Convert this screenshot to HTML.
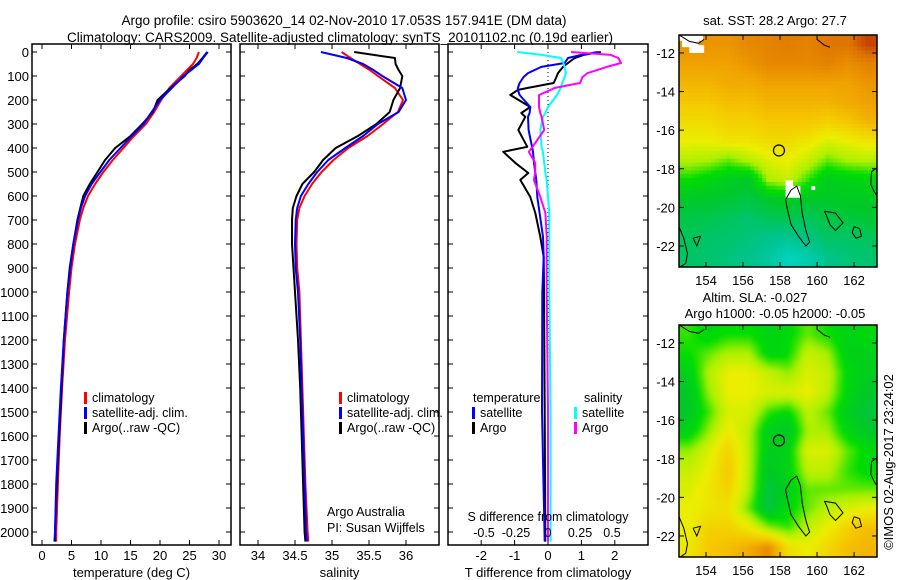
<!DOCTYPE html>
<html><head><meta charset="utf-8"><style>
html,body{margin:0;padding:0;background:#fff;}
svg{display:block;font-family:"Liberation Sans",sans-serif;}
text{fill:#000;}
</style></head><body>
<svg id="fig" width="900" height="580" viewBox="0 0 900 580" xmlns="http://www.w3.org/2000/svg">
<defs>
<clipPath id="c1"><rect x="32" y="44" width="199" height="501"/></clipPath>
<clipPath id="c2"><rect x="240" y="44" width="199" height="501"/></clipPath>
<clipPath id="c3"><rect x="448" y="44" width="200" height="501"/></clipPath>
<clipPath id="cm1"><rect x="679" y="35" width="198" height="232"/></clipPath>
<clipPath id="cm2"><rect x="679" y="325" width="198" height="232"/></clipPath>
<filter id="bl" x="-5%" y="-5%" width="110%" height="110%"><feGaussianBlur stdDeviation="2.5"/></filter>
</defs>
<text x="344" y="25" font-size="13.5" text-anchor="middle">Argo profile: csiro 5903620_14 02-Nov-2010 17.053S 157.941E (DM data)</text>
<text x="340" y="42" font-size="13.5" text-anchor="middle">Climatology: CARS2009. Satellite-adjusted climatology: synTS_20101102.nc (0.19d earlier)</text>
<g id="g1"></g>
<g id="g2"></g>
<g id="g3"></g>
<g id="m1"></g>
<g id="m2"></g>
<text transform="translate(893,462) rotate(-90)" font-size="13" text-anchor="middle">©IMOS 02-Aug-2017 23:24:02</text>
</svg>
<script>
// ---------- data ----------
const depths = [0,25,50,75,100,150,200,250,300,350,400,450,500,550,600,650,700,800,900,1000,1200,1400,1600,1800,2000,2040];
const tempClim = [26.6,26.2,25.6,24.6,23.6,21.6,20.2,19.0,17.6,15.6,13.8,12.0,10.4,9.0,7.8,7.0,6.4,5.6,5.0,4.6,3.9,3.4,3.0,2.7,2.4,2.4];
const tempSat  = [28.1,27.3,26.6,25.3,24.0,22.0,20.0,18.6,17.2,15.2,13.3,11.4,9.9,8.4,7.3,6.6,6.1,5.3,4.8,4.3,3.7,3.2,2.8,2.4,2.2,2.1];
const tempArgo = [28.0,27.2,26.3,25.0,24.2,21.8,19.6,18.8,17.0,15.0,12.4,10.7,9.4,8.1,7.0,6.5,6.0,5.3,4.7,4.3,3.7,3.3,2.9,2.5,2.2,2.2];
const salClim = [35.13,35.25,35.38,35.51,35.62,35.85,35.96,35.89,35.69,35.48,35.22,35.02,34.86,34.73,34.63,34.56,34.53,34.52,34.53,34.56,34.58,34.60,34.62,34.64,34.67,34.68];
const salSat  = [34.85,35.2,35.42,35.56,35.68,35.95,36.0,35.9,35.62,35.42,35.18,34.95,34.80,34.68,34.58,34.53,34.51,34.50,34.51,34.54,34.57,34.59,34.61,34.63,34.65,34.66];
const salArgo = [35.3,35.85,35.86,35.9,35.95,35.92,35.83,35.78,35.6,35.35,35.05,34.88,34.76,34.6,34.52,34.47,34.46,34.46,34.48,34.50,34.54,34.57,34.59,34.61,34.63,34.64];
const diffDepths = [0,12,25,46,62,88,104,129,150,158,179,229,254,270,325,395,416,462,504,533,604,671,770,854,1000,1500,2040];
const dTsat  = [1.49,1.0,0.6,0.5,-0.2,-0.6,-0.73,-0.85,-0.9,-0.9,-0.85,-0.53,-0.55,-0.6,-0.58,-0.48,-0.45,-0.42,-0.38,-0.35,-0.32,-0.25,-0.15,-0.13,-0.17,-0.18,-0.1];
const dTargo = [1.58,1.07,0.8,0.6,0.45,0.3,0.25,0.17,-0.62,-0.9,-1.13,-0.53,-0.8,-0.68,-0.89,-0.62,-1.34,-0.98,-0.59,-0.83,-0.53,-0.38,-0.23,-0.13,-0.12,-0.1,-0.08];
const dSsat  = [-0.24,-0.05,0.1,0.12,0.13,0.14,0.13,0.11,0.1,0.09,0.07,0.0,-0.02,-0.04,-0.06,-0.05,-0.04,-0.03,-0.02,-0.01,0.0,0.01,0.01,0.01,0.01,0.02,0.02];
const dSargo = [0.18,0.49,0.55,0.57,0.46,0.31,0.27,0.25,0.05,0.02,-0.07,-0.07,-0.06,-0.05,-0.03,-0.12,-0.15,-0.1,-0.1,-0.11,-0.06,-0.02,-0.01,-0.01,-0.01,0.0,0.0];
const depthTicks = [0,100,200,300,400,500,600,700,800,900,1000,1100,1200,1300,1400,1500,1600,1700,1800,1900,2000];
const tempTicks = [0,5,10,15,20,25,30];
const salTicks = [34,34.5,35,35.5,36];
const salTickLabels = ["34","34.5","35","35.5","36"];
const dTTicks = [-2,-1,0,1,2];
const dSTicks = [-0.5,-0.25,0,0.25,0.5];
const dSTickLabels = ["-0.5","-0.25","0","0.25","0.5"];
const lonTicks = [154,156,158,160,162];
const latTicks = [12,14,16,18,20,22];
// map grids: 10 cols (lon 152.54-163.24) x 12 rows (lat 11.07S-23.09S)
const sstGrid = [
[0.80,0.80,0.80,0.82,0.83,0.84,0.83,0.85,0.85,0.90],
[0.78,0.78,0.78,0.80,0.82,0.82,0.82,0.83,0.81,0.83],
[0.74,0.74,0.76,0.76,0.78,0.78,0.78,0.78,0.78,0.80],
[0.70,0.70,0.72,0.72,0.74,0.74,0.74,0.74,0.76,0.78],
[0.66,0.66,0.68,0.68,0.70,0.70,0.70,0.68,0.70,0.74],
[0.62,0.62,0.64,0.64,0.66,0.66,0.64,0.60,0.62,0.64],
[0.56,0.55,0.52,0.56,0.60,0.62,0.58,0.52,0.55,0.56],
[0.48,0.45,0.42,0.40,0.55,0.58,0.50,0.42,0.44,0.45],
[0.40,0.40,0.39,0.37,0.40,0.42,0.40,0.40,0.41,0.41],
[0.37,0.36,0.35,0.33,0.35,0.36,0.35,0.37,0.38,0.39],
[0.35,0.34,0.33,0.32,0.30,0.29,0.31,0.34,0.34,0.35],
[0.34,0.33,0.32,0.30,0.28,0.24,0.26,0.30,0.32,0.33]];
const slaGrid = [
[0.50,0.45,0.48,0.48,0.44,0.46,0.52,0.48,0.44,0.46],
[0.48,0.52,0.56,0.56,0.45,0.47,0.58,0.55,0.43,0.43],
[0.43,0.56,0.62,0.62,0.58,0.54,0.60,0.58,0.46,0.42],
[0.40,0.54,0.62,0.62,0.60,0.60,0.62,0.57,0.45,0.40],
[0.40,0.50,0.60,0.60,0.50,0.46,0.57,0.52,0.42,0.38],
[0.44,0.54,0.63,0.57,0.42,0.40,0.55,0.55,0.45,0.40],
[0.54,0.60,0.68,0.57,0.42,0.44,0.60,0.60,0.52,0.46],
[0.58,0.62,0.70,0.57,0.40,0.44,0.57,0.57,0.50,0.46],
[0.60,0.64,0.68,0.56,0.38,0.42,0.52,0.52,0.52,0.52],
[0.62,0.64,0.65,0.52,0.37,0.46,0.52,0.57,0.60,0.62],
[0.62,0.68,0.68,0.64,0.54,0.50,0.57,0.62,0.68,0.72],
[0.63,0.70,0.72,0.76,0.82,0.66,0.62,0.67,0.72,0.74]];
const argoLon = 157.941, argoLat = 17.053;
const coastA = [[158.6,19.1],[158.9,18.9],[159.1,19.4],[159.2,20.3],[159.4,21.2],[159.6,21.8],[159.4,22.0],[159.0,21.5],[158.6,20.9],[158.4,20.1],[158.3,19.6],[158.6,19.1]];
const coastB = [[160.4,20.2],[161.0,20.3],[161.4,20.8],[161.0,21.2],[160.7,20.9],[160.5,20.4],[160.4,20.2]];
const coastC = [[163.24,17.95],[162.95,18.15],[162.9,18.8],[163.1,19.2],[163.24,19.4]];
const coastD = [[152.54,21.0],[152.8,21.6],[153.0,22.4],[152.9,22.9],[152.6,23.09]];
const coastE = [[153.3,21.6],[153.7,21.5],[153.5,22.0],[153.3,21.6]];
const coastF = [[152.6,11.1],[153.1,11.4],[153.6,11.5],[153.9,11.3]];
const coastG = [[160.0,11.3],[160.4,11.6],[160.7,11.7]];
const coastH = [[162.0,21.0],[162.3,21.1],[162.4,21.5],[162.1,21.6],[161.9,21.3],[162.0,21.0]];

// ---------- helpers ----------
const NS='http://www.w3.org/2000/svg';
function mk(parent,tag,attrs){const e=document.createElementNS(NS,tag);for(const k in attrs)e.setAttribute(k,attrs[k]);parent.appendChild(e);return e;}
const yTop=52, yPer=0.24;
function yD(d){return yTop+d*yPer;}

function axes(g,x0,x1,xOf,ticks,labels,showY,xlabel,nm,clip){
  const box=mk(g,'rect',{x:x0,y:44,width:x1-x0,height:501,fill:'none',stroke:'#000','stroke-width':1.5});
  
  
  depthTicks.forEach(d=>{
    const y=yD(d);
    mk(g,'line',{x1:x0,x2:x0+5,y1:y,y2:y,stroke:'#000'});
    mk(g,'line',{x1:x1-5,x2:x1,y1:y,y2:y,stroke:'#000'});
    if(showY){const t=mk(g,'text',{x:x0-3,y:y+5,'font-size':13,'text-anchor':'end'});t.textContent=d;
      
      }
  });
  ticks.forEach((v,i)=>{
    const x=xOf(v);
    mk(g,'line',{x1:x,x2:x,y1:44,y2:49,stroke:'#000'});
    mk(g,'line',{x1:x,x2:x,y1:540,y2:545,stroke:'#000'});
    if(labels){const t=mk(g,'text',{x:x,y:560,'font-size':13,'text-anchor':'middle'});t.textContent=labels[i];
      
      }
  });
  const xl=mk(g,'text',{x:(x0+x1)/2,y:577,'font-size':13,'text-anchor':'middle'});xl.textContent=xlabel;
  
  
}
function line(g,xs,ds,xOf,color,nm,clip){
  const pts=xs.map((v,i)=>xOf(v).toFixed(1)+','+yD(ds[i]).toFixed(1)).join(' ');
  const p=mk(g,'polyline',{points:pts,fill:'none',stroke:color,'stroke-width':2,'clip-path':'url(#'+clip+')','stroke-linejoin':'round'});
  
  
}
function legend(g,x,y,items,nm){
  items.forEach((it,i)=>{
    const yy=y+i*15;
    if(it[1]) mk(g,'rect',{x:x,y:yy-10,width:3,height:12,fill:it[1]});
    const t=mk(g,'text',{x:x+(it[1]?8:0),y:yy,'font-size':12.5});t.textContent=it[0];
    
    
  });
}

// ---------- panel 1 ----------
const g1=document.getElementById('g1');
const xT=v=>42+v*5.9;
axes(g1,32,231,xT,tempTicks,tempTicks.map(String),true,'temperature (deg C)','temperature','c1');
line(g1,tempClim,depths,xT,'#ff0000','temp-climatology-line','c1');
line(g1,tempArgo,depths,xT,'#000000','temp-argo-line','c1');
line(g1,tempSat,depths,xT,'#0000ff','temp-satellite-line','c1');
legend(g1,84,402,[['climatology','#f00'],['satellite-adj. clim.','#00f'],['Argo(..raw -QC)','#000']],'temp-legend');

// ---------- panel 2 ----------
const g2=document.getElementById('g2');
const xS=v=>258+(v-34)*74;
axes(g2,240,439,xS,salTicks,salTickLabels,false,'salinity','salinity','c2');
line(g2,salClim,depths,xS,'#ff0000','sal-climatology-line','c2');
line(g2,salArgo,depths,xS,'#000000','sal-argo-line','c2');
line(g2,salSat,depths,xS,'#0000ff','sal-satellite-line','c2');
legend(g2,339,402,[['climatology','#f00'],['satellite-adj. clim.','#00f'],['Argo(..raw -QC)','#000']],'sal-legend');
const aa=mk(g2,'text',{x:327,y:516,'font-size':12.5});aa.textContent='Argo Australia';


const pi=mk(g2,'text',{x:327,y:532,'font-size':12.5});pi.textContent='PI: Susan Wijffels';



// ---------- panel 3 ----------
const g3=document.getElementById('g3');
const xDT=v=>548+v*33.4;
const xDS=v=>548+v*128;
axes(g3,448,648,xDT,dTTicks,dTTicks.map(String),false,'T difference from climatology','tdiff','c3');
mk(g3,'line',{x1:548,x2:548,y1:52,y2:545,stroke:'#000','stroke-dasharray':'1,3'});
line(g3,dTargo,diffDepths,xDT,'#000000','tdiff-argo-line','c3');
line(g3,dTsat,diffDepths,xDT,'#0000ff','tdiff-satellite-line','c3');
line(g3,dSsat,diffDepths,xDS,'#00ffff','sdiff-satellite-line','c3');
line(g3,dSargo,diffDepths,xDS,'#ff00ff','sdiff-argo-line','c3');
dSTicks.forEach((v,i)=>{const t=mk(g3,'text',{x:xDS(v),y:537,'font-size':12.5,'text-anchor':'middle'});t.textContent=dSTickLabels[i];
  
  });
const st=mk(g3,'text',{x:548,y:521,'font-size':12.5,'text-anchor':'middle'});st.textContent='S difference from climatology';


legend(g3,473,402,[['temperature',null]],'tdiff-legend');
legend(g3,472,417,[['satellite','#00f'],['Argo','#000']],'tdiff-legend');
legend(g3,584,402,[['salinity',null]],'sdiff-legend');
legend(g3,574,417,[['satellite','#0ff'],['Argo','#f0f']],'sdiff-legend');

// ---------- maps ----------
const stops=[[0.22,[0,215,205]],[0.3,[0,195,140]],[0.4,[0,200,40]],[0.48,[0,222,0]],[0.55,[170,240,0]],[0.62,[235,238,0]],[0.7,[245,200,0]],[0.78,[240,162,0]],[0.86,[220,112,0]],[0.95,[170,20,0]]];
function cmap(v){
  if(v<=stops[0][0])return stops[0][1];
  for(let i=1;i<stops.length;i++){if(v<=stops[i][0]){const a=stops[i-1],b=stops[i];const t=(v-a[0])/(b[0]-a[0]);return a[1].map((c,k)=>Math.round(c+(b[1][k]-c)*t));}}
  return stops[stops.length-1][1];
}
const lon0=152.54,lon1=163.24,lat0=11.07,lat1=23.09;
function drawMap(gid,top,grid,title,clip,blur,whites){
  const g=document.getElementById(gid);
  const L=679,W=198,H=232;
  const xL=lon=>L+(lon-lon0)/(lon1-lon0)*W;
  const yL=lat=>top+(lat-lat0)/(lat1-lat0)*H;
  const cells=mk(g,'g',{'clip-path':'url(#'+clip+')'});
  
  
  const inner=mk(cells,'g',blur?{filter:'url(#bl)'}:{});
  const R=grid.length,C=grid[0].length, sub=5;
  const cw=W/C/sub*1, ch=H/R/sub;
  function sample(fr,fc){
    fr=Math.max(0,Math.min(R-1,fr));fc=Math.max(0,Math.min(C-1,fc));
    const r0=Math.floor(fr),c0=Math.floor(fc),r1=Math.min(R-1,r0+1),c1=Math.min(C-1,c0+1);
    const tr=fr-r0,tc=fc-c0;
    return grid[r0][c0]*(1-tr)*(1-tc)+grid[r0][c1]*(1-tr)*tc+grid[r1][c0]*tr*(1-tc)+grid[r1][c1]*tr*tc;
  }
  for(let i=-2;i<R*sub+2;i++)for(let j=-2;j<C*sub+2;j++){
    const v=sample((i+0.5)/sub-0.5,(j+0.5)/sub-0.5);
    const c=cmap(v);
    mk(inner,'rect',{x:(L+j*cw).toFixed(2),y:(top+i*ch).toFixed(2),width:(cw+0.6).toFixed(2),height:(ch+0.6).toFixed(2),fill:'rgb('+c.join(',')+')'});
  }
  (whites||[]).forEach(w=>mk(cells,'rect',{x:xL(w[0]),y:yL(w[1]),width:w[2]*W/(lon1-lon0),height:w[3]*H/(lat1-lat0),fill:'#fff'}));
  [coastA,coastB,coastC,coastD,coastE,coastF,coastG,coastH].forEach(cs=>{
    const p=mk(cells,'polyline',{points:cs.map(q=>xL(q[0]).toFixed(1)+','+yL(q[1]).toFixed(1)).join(' '),fill:'none',stroke:'#000','stroke-width':1});
    
    
  });
  const ci=mk(g,'circle',{cx:xL(argoLon),cy:yL(argoLat),r:5.5,fill:'none',stroke:'#000','stroke-width':1.2});
  
  
  const fr=mk(g,'rect',{x:L,y:top,width:W,height:H,fill:'none',stroke:'#000','stroke-width':1.5});
  
  
  lonTicks.forEach(v=>{const x=xL(v);
    mk(g,'line',{x1:x,x2:x,y1:top,y2:top+5,stroke:'#000'});mk(g,'line',{x1:x,x2:x,y1:top+H-5,y2:top+H,stroke:'#000'});
    const t=mk(g,'text',{x:x,y:top+H+18,'font-size':13,'text-anchor':'middle'});t.textContent=v;
    
    });
  latTicks.forEach(v=>{const y=yL(v);
    mk(g,'line',{x1:L,x2:L+5,y1:y,y2:y,stroke:'#000'});mk(g,'line',{x1:L+W-5,x2:L+W,y1:y,y2:y,stroke:'#000'});
    const t=mk(g,'text',{x:L-4,y:y+5,'font-size':13,'text-anchor':'end'});t.textContent='-'+v;
    
    });
  title.forEach((s,i)=>{const t=mk(g,'text',{x:s[1],y:s[2],'font-size':13,'text-anchor':'middle'});t.textContent=s[0];
    
    });
}
drawMap('m1',35,sstGrid,[['sat. SST: 28.2 Argo: 27.7',775,25]],'cm1',false,[[152.54,11.07,1.3,0.3],[152.7,11.1,0.9,0.6],[153.1,11.6,0.8,0.4],[158.3,18.6,0.4,0.5],[158.3,18.9,0.8,0.6],[159.7,18.9,0.2,0.2]]);
drawMap('m2',325,slaGrid,[['Altim. SLA: -0.027',755,302],['Argo h1000: -0.05 h2000: -0.05',775,318]],'cm2',true,[]);
</script>
</body></html>
